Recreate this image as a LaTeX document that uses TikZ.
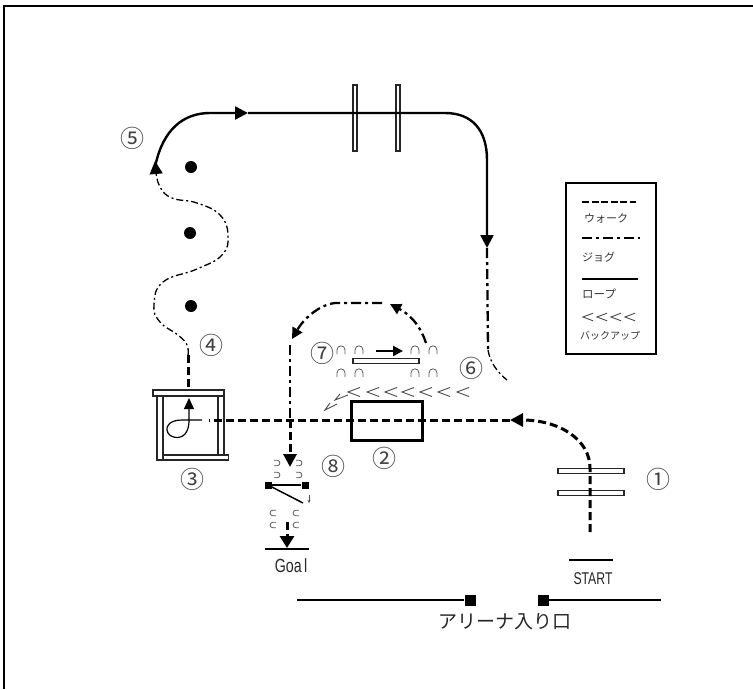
\documentclass[tikz,border=0pt]{standalone}
\usepackage{fontspec}
\usetikzlibrary{arrows.meta,positioning}
\setmainfont{Liberation Sans}
\newfontfamily\cjkfont{Noto Sans CJK JP}

\tikzset{
    walk/.style={line width=3pt,dash pattern=on 8pt off 4pt},
    jog/.style={line width=2.3pt,dash pattern=on 10pt off 4pt on 3pt off 4pt},
    thinjog/.style={line width=1.3pt,dash pattern=on 7pt off 3pt on 2pt off 3pt},
    rope/.style={line width=2.4pt},
    pole/.style={draw=black!85,fill=white,line width=1.1pt,inner sep=0pt},
    numlabel/.style={font=\cjkfont\fontsize{24}{24}\selectfont,text=black!75,inner sep=0pt},
    keytext/.style={font=\cjkfont\fontsize{#1}{12}\selectfont,text=black!80,inner sep=0pt,anchor=west},
    barrel/.style={circle,fill=black,minimum size=12pt,inner sep=0pt},
    gatepost/.style={rectangle,fill=black,inner sep=0pt},
    conecap/.pic={\draw[line width=.8pt,black!65] (-4,4) -- (-4,0) .. controls (-4,-5.5) and (4,-5.5) .. (4,0) -- (4,4);},
    backupmark/.pic={\draw[line width=.9pt,black!70] (6,-4.5) -- (-6,0) -- (6,4.5);}
}

\begin{document}
\begin{tikzpicture}[x=1pt,y=-1pt,>={Triangle[length=13pt,width=13pt]}]

\useasboundingbox (0,0) rectangle (753,689);

% Frame
\coordinate (frameA) at (4,689);
\coordinate (frameB) at (4,6);
\coordinate (frameC) at (753,6);
\draw[line width=1.6pt] (frameA) -- (frameB) -- (frameC);

% Rails
\node[pole,minimum width=4pt,minimum height=66pt] (railA) at (355,118) {};
\node[pole,minimum width=4pt,minimum height=66pt] (railB) at (398,118) {};
\node[pole,minimum width=66pt,minimum height=5pt] (railC) at (591,471) {};
\node[pole,minimum width=66pt,minimum height=5pt] (railD) at (591,493) {};
\node[pole,minimum width=66pt,minimum height=5pt] (railE) at (386,361) {};

% Rope
\coordinate (ropeA) at (155.5,165);
\coordinate (ropeB) at (248,113);
\coordinate (ropeC) at (487,248);
\draw[rope] (ropeA) .. controls (163,130) and (183,113) .. (210,113) -- (235,113);
\draw[rope,->] (210,113) -- (ropeB);
\draw[rope,->] (ropeB) -- (445,113) .. controls (472,113) and (487,130) .. (487,160) -- (ropeC);

% Jog to gate
\coordinate (jogA) at (487,248);
\coordinate (jogB) at (488,350);
\coordinate (jogC) at (507,380);
\draw[jog] (jogA) -- (jogB);
\draw[thinjog] (jogB) .. controls (490,362) and (497,372) .. (jogC);

% Barrels
\node[barrel] (barrelA) at (191,167) {};
\node[barrel] (barrelB) at (190,233) {};
\node[barrel] (barrelC) at (191,306) {};

% Serpentine
\coordinate (snakeA) at (156,172);
\coordinate (snakeB) at (188,355);
\coordinate (snakeC) at (188,393);
\coordinate (snakeD) at (155,161);
\draw[thinjog] plot[smooth,tension=.75] coordinates {
    (snakeB) (187,345) (178,335) (160,322) (154,305) (163,282) (197,269)
    (222,255) (228,235) (220,215) (197,203) (172,198) (160,187) (snakeA)};
\draw[line width=1.2pt,->] (snakeA) -- (snakeD);
\draw[walk] (snakeB) -- (snakeC);

% Square
\node[pole,minimum width=6pt,minimum height=64pt] (sqR) at (221,423) {};
\node[pole,minimum width=6pt,minimum height=64pt] (sqL) at (160,428) {};
\node[pole,minimum width=71pt,minimum height=6pt] (sqT) at (188.5,393) {};
\node[pole,minimum width=65pt,minimum height=5pt] (sqB) at (196,457.5) {};

% Loop
\coordinate (loopA) at (202,420);
\coordinate (loopB) at (189,398);
\draw[line width=1.2pt,-{Triangle[length=11pt,width=10pt]}] (loopA) -- (182,420) .. controls (170,420) and (166,426) .. (167,430)
    .. controls (168,438) and (180,440) .. (185,434) .. controls (190,428) and (189,420) .. (loopB);

% Box
\node[draw,line width=2.4pt,minimum width=71pt,minimum height=39pt,inner sep=0pt] (boxtwo) at (387,421) {};

% Walk from start
\coordinate (startA) at (590,532);
\coordinate (startB) at (510,420);
\coordinate (startC) at (209,420);
\draw[walk] (startA) -- (590,468) .. controls (590,440) and (560,420) .. (522,420);
\draw[walk,->] (522,420) -- (startB);
\draw[walk] (startB) -- (startC);

% Start line
\coordinate (startL) at (569,560);
\coordinate (startR) at (613,560);
\draw[line width=1.2pt] (startL) -- (startR);
\node[inner sep=0pt,xscale=.72,font=\fontsize{17}{17}\selectfont,text=black!85] (startlabel) at (593,579) {START};

% Jog round bar
\coordinate (arcA) at (426,343);
\coordinate (arcB) at (390,304);
\coordinate (arcC) at (292,339);
\coordinate (arcD) at (290,420);
\coordinate (arcE) at (290,467);
\draw[jog,-{Triangle[length=11pt,width=11pt]}] (arcA) .. controls (419,322) and (407,313) .. (arcB);
\draw[jog,-{Triangle[length=11pt,width=11pt]}] (382,303) -- (335,303) .. controls (318,305) and (303,320) .. (arcC);
\draw[jog] (290,345) -- (arcD);
\draw[walk,->] (arcD) -- (arcE);

% Bar arrow
\coordinate (barA) at (376,351);
\coordinate (barB) at (403,351);
\draw[line width=2.2pt,-{Triangle[length=10pt,width=10pt]}] (barA) -- (barB);

% Cones at bar
\foreach \x in {341,359,415,433}{
    \pic at (\x,350) {conecap};
    \pic at (\x,373) {conecap};
}

% Backup
\foreach \x in {354,373,391,408,426,444,463}{
    \pic at (\x,392) {backupmark};
}
\coordinate (backA) at (348,395);
\coordinate (backB) at (335,400);
\coordinate (backC) at (340,394);
\coordinate (backD) at (337,404);
\coordinate (backE) at (325,410);
\coordinate (backF) at (330,403);
\draw[line width=.9pt,black!70] (backA) -- (backB) -- (backC);
\draw[line width=.9pt,black!70] (backD) -- (backE) -- (backF);

% Finish
\foreach \y in {463,475}{
    \pic[rotate=-90,scale=.7] at (277,\y) {conecap};
    \pic[rotate=-90,scale=.7] at (299,\y) {conecap};
}
\foreach \y in {513,525}{
    \pic[rotate=90,scale=.7] at (273,\y) {conecap};
    \pic[rotate=90,scale=.7] at (296,\y) {conecap};
}
\node[gatepost,minimum size=7pt] (gateA) at (268,485) {};
\node[gatepost,minimum size=7pt] (gateB) at (305,485) {};
\coordinate (gateC) at (303,503);
\coordinate (gateD) at (309,495);
\coordinate (gateE) at (309,503);
\draw[line width=1.5pt] (gateA) -- (gateB);
\draw[line width=1.5pt] (gateA) -- (gateC);
\draw[line width=.6pt,-{Stealth[length=3pt,width=3pt]},black!70] (gateD) -- (gateE);

% Goal
\coordinate (goalA) at (287,522);
\coordinate (goalB) at (287,548);
\coordinate (goalL) at (265,549);
\coordinate (goalR) at (309,549);
\draw[walk,-{Triangle[length=12pt,width=14pt]}] (goalA) -- (goalB);
\draw[line width=1.2pt] (goalL) -- (goalR);
\node[inner sep=0pt,xscale=.75,font=\fontsize{19}{19}\selectfont,text=black!85] (goallabel) at (291,566) {Goa\,l};

% Entrance
\node[gatepost,minimum size=11pt] (doorA) at (470,600) {};
\node[gatepost,minimum size=11pt] (doorB) at (543,600) {};
\coordinate (wallA) at (297,600);
\coordinate (wallB) at (661,600);
\draw[line width=1.5pt] (wallA) -- (doorA);
\draw[line width=1.5pt] (doorB) -- (wallB);
\node[inner sep=0pt,font=\cjkfont\fontsize{19}{19}\selectfont,text=black!85] (doorlabel) at (505,622) {アリーナ入り口};

% Numbers
\node[numlabel] (numA) at (658,479) {①};
\node[numlabel] (numB) at (384,458) {②};
\node[numlabel] (numC) at (192,479) {③};
\node[numlabel] (numD) at (211,345) {④};
\node[numlabel] (numE) at (132,138) {⑤};
\node[numlabel] (numF) at (471,368) {⑥};
\node[numlabel] (numG) at (322,353) {⑦};
\node[numlabel] (numH) at (333,466) {⑧};

% Key
\node[draw,line width=1.8pt,minimum width=90pt,minimum height=171pt,inner sep=0pt] (keybox) at (611,268.5) {};
\coordinate (keyA) at (582,202);
\coordinate (keyB) at (636,202);
\coordinate (keyC) at (582,238);
\coordinate (keyD) at (640,238);
\coordinate (keyE) at (582,279);
\coordinate (keyF) at (638,279);
\draw[line width=2pt,dash pattern=on 7pt off 2.5pt] (keyA) -- (keyB);
\draw[line width=1.6pt,dash pattern=on 10pt off 4pt on 3pt off 4pt] (keyC) -- (keyD);
\draw[line width=2.6pt] (keyE) -- (keyF);
\node[keytext=11] (keywalk) at (584,218) {ウォーク};
\node[keytext=11] (keyjog) at (582,257) {ジョグ};
\node[keytext=11.5] (keyrope) at (582,294) {ロープ};
\node[keytext=10] (keybackup) at (580,336) {バックアップ};
\foreach \x in {588,602,616,630}{
    \pic[scale=.85] at (\x,317) {backupmark};
}

\end{tikzpicture}
\end{document}
